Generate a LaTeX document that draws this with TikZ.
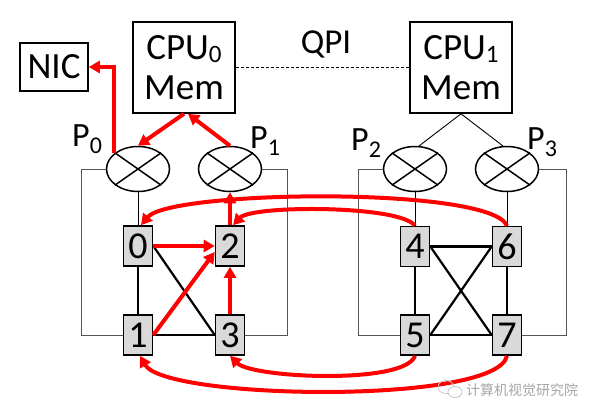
\documentclass[tikz,border=0pt]{standalone}
\usepackage{fontspec}
\setmainfont{Carlito}
\newfontfamily\cjkfont{Noto Sans CJK SC}
\usetikzlibrary{shapes.geometric,arrows.meta}
\definecolor{rtrgray}{HTML}{D9D9D9}
\definecolor{framecol}{HTML}{555555}
\newcommand{\cpusub}[1]{\raisebox{-3pt}{\fontsize{25}{25}\selectfont #1}}
\newcommand{\portsub}[1]{\raisebox{-7pt}{\fontsize{24}{24}\selectfont #1}}
\begin{document}
\begin{tikzpicture}[x=1pt,y=-1pt,
  box/.style={draw,line width=1.6pt,inner sep=0pt,align=center,font=\fontsize{37}{40}\selectfont},
  port/.style={ellipse,draw,line width=1.5pt,minimum width=63pt,minimum height=45pt,inner sep=0pt},
  rtr/.style={draw,line width=1.6pt,fill=rtrgray,minimum width=29pt,minimum height=40pt,inner sep=0pt,font=\fontsize{38}{38}\selectfont},
  thinline/.style={line width=0.9pt},
  frameline/.style={line width=0.9pt,draw=framecol},
  link/.style={line width=2.2pt},
  redarr/.style={draw=red,line width=4pt,-{Triangle[length=11pt,width=12pt]}},
  lbl/.style={anchor=base west,inner sep=0pt,font=\fontsize{34}{34}\selectfont}]
\useasboundingbox (0,0) rectangle (597,415);

% boxes
\node[box,minimum width=68pt,minimum height=48pt] (nic) at (54,67) {NIC};
\node[box,minimum width=102pt,minimum height=91pt] (cpu0) at (184,67.5) {CPU\cpusub{0}\\Mem};
\node[box,minimum width=102pt,minimum height=91pt] (cpu1) at (461,67.5) {CPU\cpusub{1}\\Mem};
\node[anchor=base,inner sep=0pt,font=\fontsize{35}{35}\selectfont] (qpi) at (326,53) {QPI};

% ports
\node[port] (p0) at (138,169) {};
\node[port] (p1) at (230,169) {};
\node[port] (p2) at (415,169) {};
\node[port] (p3) at (507,169) {};
\foreach \p in {p0,p1,p2,p3}{
  \draw[line width=1.5pt] (\p.35) -- (\p.215) (\p.145) -- (\p.325);
}
\node[lbl] (l0) at (72,146) {P\portsub{0}};
\node[lbl] (l1) at (250,148) {P\portsub{1}};
\node[lbl] (l2) at (351,150) {P\portsub{2}};
\node[lbl] (l3) at (527,149) {P\portsub{3}};

% routers
\node[rtr] (r0) at (138,246) {0};
\node[rtr] (r2) at (230,246) {2};
\node[rtr] (r1) at (138,335) {1};
\node[rtr] (r3) at (230,335) {3};
\node[rtr] (r4) at (415,246.5) {4};
\node[rtr] (r6) at (507,246.5) {6};
\node[rtr] (r5) at (415,335) {5};
\node[rtr] (r7) at (507,335) {7};

% thin lines
\draw[thinline,dashed,dash pattern=on 3pt off 2pt] (cpu0.east) -- (cpu1.west);
\draw[thinline] (cpu1.south) -- (p2.80);
\draw[thinline] (cpu1.south) -- (p3.100);
\draw[thinline] (p0.south) -- (r0.north);
\draw[thinline] (p2.south) -- (r4.north);
\draw[thinline] (p3.south) -- (r6.north);
\draw[frameline] (p0.west) -- ++(-24,0) |- (r1.west);
\draw[frameline] (p1.east) -- ++(25,0) |- (r3.east);
\draw[frameline] (p2.west) -- ++(-24,0) |- (r5.west);
\draw[frameline] (p3.east) -- ++(27,0) |- (r7.east);

% black links
\draw[link] (r0.south) -- (r1.north);
\draw[link] (r1.east) -- (r3.west);
\draw[link] (r0.east) -- (r3.west);
\draw[link] (r4.east) -- (r6.west);
\draw[link] (r5.east) -- (r7.west);
\draw[link] (r4.south) -- (r5.north);
\draw[link] (r6.south) -- (r7.north);
\draw[link] (r4.east) -- (r7.west);
\draw[link] (r5.east) -- (r6.west);

% red arrows
\draw[redarr] (p0.146) |- (nic.east);
\draw[redarr] (cpu0.south) -- (p0.north);
\draw[redarr] (p1.north) -- ([xshift=4pt]cpu0.south);
\draw[redarr] (r2.north) -- (p1.south);
\draw[redarr] (r0.east) -- (r2.west);
\draw[redarr] (r1.east) -- ([yshift=-6pt]r2.west);
\draw[redarr] (r3.north) -- (r2.south);
\draw[redarr] (r6.north) .. controls (490,186) and (170,190) .. ([xshift=3pt]r0.north);
\draw[redarr] (r4.north) .. controls (400,205) and (252,205) .. ([xshift=3pt]r2.north);
\draw[redarr] (r5.south) .. controls (405,385) and (252,378) .. (r3.south);
\draw[redarr] (r7.south) .. controls (497,405) and (165,400) .. ([xshift=2pt]r1.south);

% watermark
\draw[gray!45,line width=0.8pt] (446,387) ellipse (8pt and 6.5pt);
\draw[gray!45,line width=0.8pt,fill=white] (455,392) ellipse (7pt and 5.5pt);
\node[anchor=west,inner sep=0pt,text=gray!70,font=\cjkfont\fontsize{14}{14}\selectfont] (wm) at (466,390) {计算机视觉研究院};
\end{tikzpicture}
\end{document}
